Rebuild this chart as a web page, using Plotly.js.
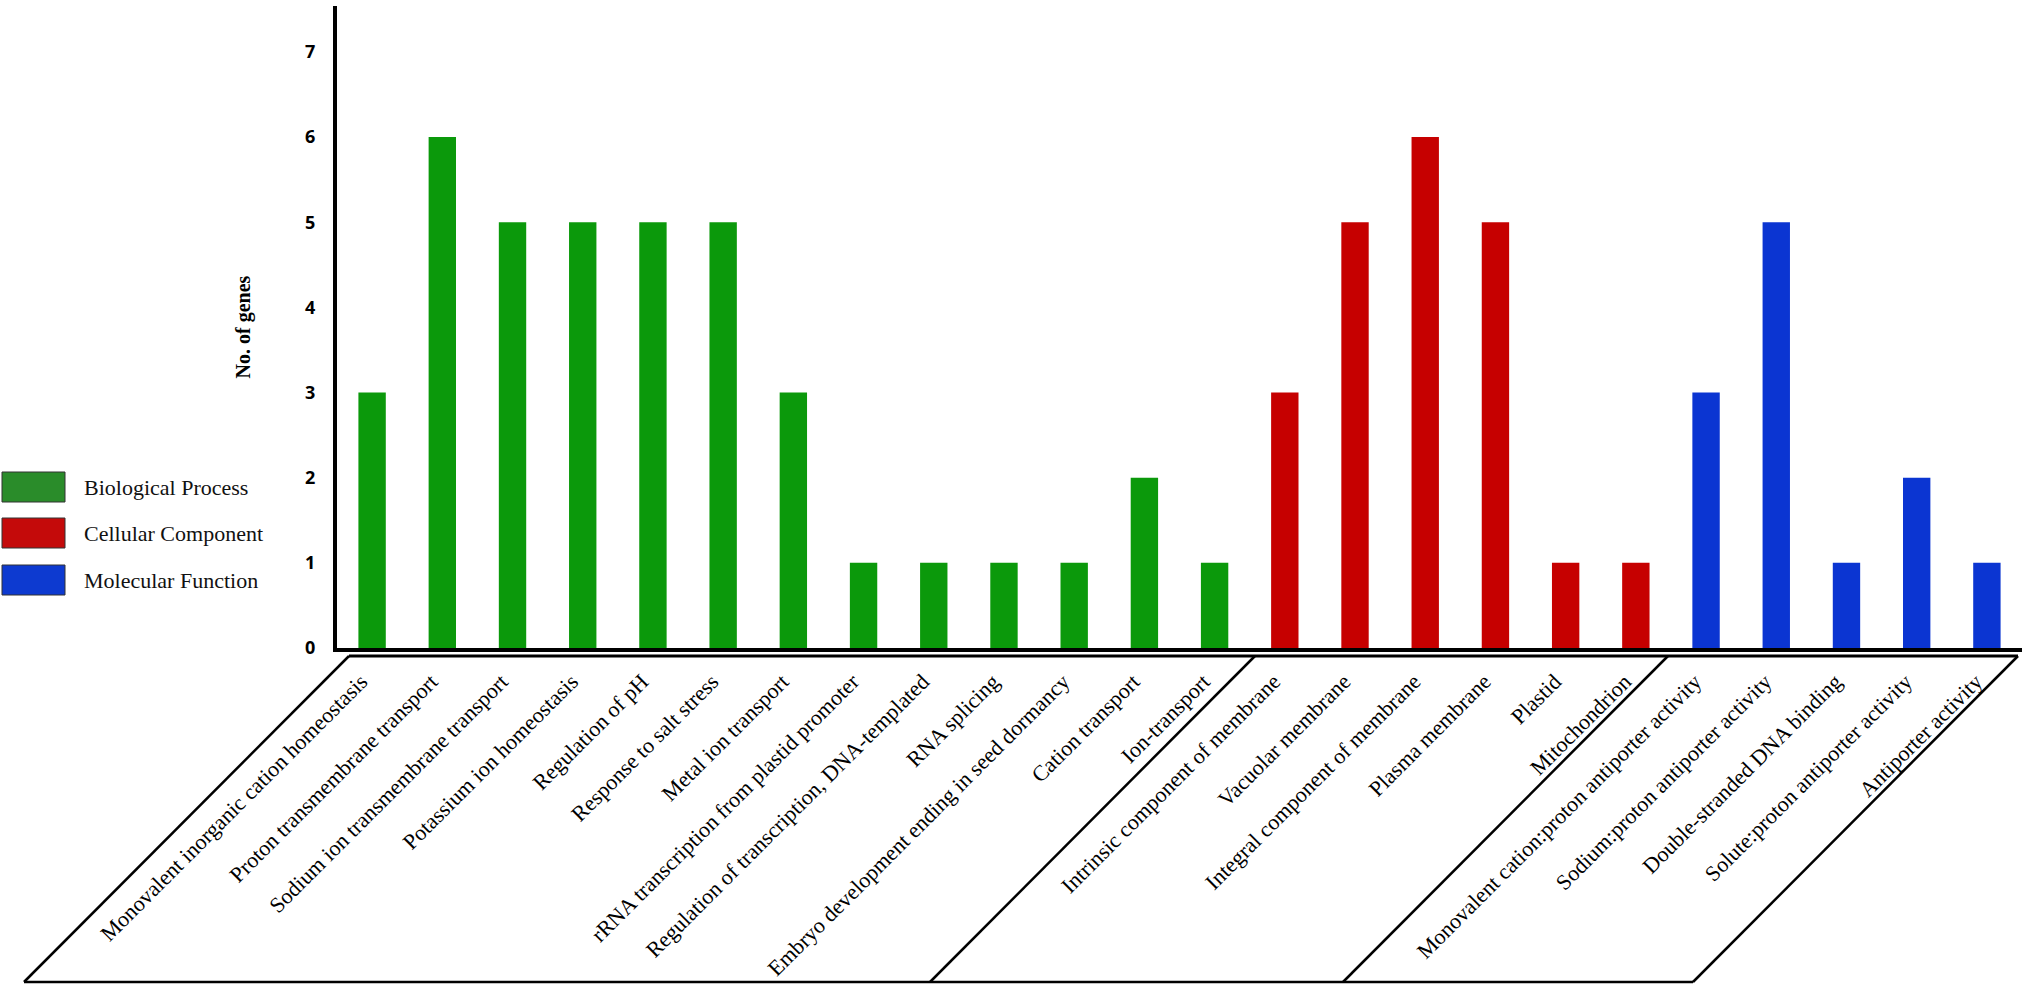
<!DOCTYPE html>
<html>
<head>
<meta charset="utf-8">
<script src="https://cdn.plot.ly/plotly-3.0.1.min.js"></script>
<style>
  html, body { margin: 0; padding: 0; background: #fff; }
  #graph { width: 2032px; height: 990px; }
</style>
</head>
<body>
<div id="graph"></div>
<script>
const bpTerms = [
    "Monovalent inorganic cation homeostasis",
    "Proton transmembrane transport",
    "Sodium ion transmembrane transport",
    "Potassium ion homeostasis",
    "Regulation of pH",
    "Response to salt stress",
    "Metal ion transport",
    "rRNA transcription from plastid promoter",
    "Regulation of transcription, DNA-templated",
    "RNA splicing",
    "Embryo development ending in seed dormancy",
    "Cation transport",
    "Ion-transport"
]
const bpGenes = [3, 6, 5, 5, 5, 5, 3, 1, 1, 1, 1, 2, 1]

const ccTerms = [
    "Intrinsic component of membrane",
    "Vacuolar membrane",
    "Integral component of membrane",
    "Plasma membrane",
    "Plastid",
    "Mitochondrion"
]
const ccGenes = [3, 5, 6, 5, 1, 1]

const mfTerms = [
    "Monovalent cation:proton antiporter activity",
    "Sodium:proton antiporter activity",
    "Double-stranded DNA binding",
    "Solute:proton antiporter activity",
    "Antiporter activity"
]
const mfGenes = [3, 5, 1, 2, 1]

const groupNames = ["Biological Process", "Cellular Component", "Molecular Function"]
const barColors = ["#0b990b", "#c60000", "#0b35d2"]
const swatchColors = ["#2a8c2a", "#c40a0a", "#0d3ad0"]

const allTerms = [...bpTerms, ...ccTerms, ...mfTerms]

// plot area in pixels (used to place the decoration below the axis)
const W = 2032, H = 990
const M = { l: 337, r: 10, t: 6, b: 342 }
const px = x => (x - M.l) / (W - M.l - M.r)
const py = y => (H - M.b - y) / (H - M.t - M.b)

const groups = [[bpTerms, bpGenes], [ccTerms, ccGenes], [mfTerms, mfGenes]]
const traces = groups.map(([terms, genes], i) => ({
    type: "bar",
    x: terms,
    y: genes,
    name: groupNames[i],
    width: 0.39,
    marker: { color: barColors[i], line: { width: 0 } },
    showlegend: false,
    hoverinfo: "x+y"
}))

// slanted box under the category labels, split per group
const topY = 656, botY = 982, slant = 325
const splitsTop = [349, 1255, 1668, 2018]
const shapes = []
const edge = (xt) => ({
    type: "line", xref: "paper", yref: "paper",
    x0: px(xt), y0: py(topY), x1: px(xt - slant), y1: py(botY),
    line: { color: "#000", width: 2.5 }
})
splitsTop.forEach(xt => shapes.push(edge(xt)))
shapes.push({
    type: "line", xref: "paper", yref: "paper",
    x0: px(splitsTop[0]), y0: py(topY), x1: px(splitsTop[3]), y1: py(topY),
    line: { color: "#000", width: 3 }
})
shapes.push({
    type: "line", xref: "paper", yref: "paper",
    x0: px(splitsTop[0] - slant), y0: py(botY), x1: px(splitsTop[3] - slant), y1: py(botY),
    line: { color: "#000", width: 2.5 }
})

// legend drawn as swatches + labels on the left
const legendY = [487, 533, 580]
const annotations = []
groupNames.forEach((name, i) => {
    shapes.push({
        type: "rect", xref: "paper", yref: "paper",
        x0: px(2), x1: px(65), y0: py(legendY[i] + 15), y1: py(legendY[i] - 15),
        fillcolor: swatchColors[i],
        line: { color: "#333", width: 1 }
    })
    annotations.push({
        xref: "paper", yref: "paper", x: px(82), y: py(legendY[i]),
        xanchor: "left", yanchor: "middle", showarrow: false,
        text: name,
        font: { family: "Liberation Serif", size: 22, color: "#111" }
    })
})

const layout = {
    width: W, height: H,
    margin: M,
    paper_bgcolor: "#fff",
    plot_bgcolor: "#fff",
    barmode: "overlay",
    xaxis: {
        type: "category",
        categoryorder: "array",
        categoryarray: allTerms,
        range: [-0.5, allTerms.length - 0.5],
        showline: true, linecolor: "#000", linewidth: 4,
        showgrid: false, zeroline: false,
        ticks: "",
        tickangle: -45,
        ticklabelstandoff: 8,
        ticklabelshift: -11,
        tickfont: { family: "Liberation Serif", size: 22, color: "#000" },
        automargin: false
    },
    yaxis: {
        range: [0, 7.54],
        tickvals: [0, 1, 2, 3, 4, 5, 6, 7],
        showline: true, linecolor: "#000", linewidth: 4,
        showgrid: false, zeroline: false,
        ticks: "",
        ticklabelstandoff: 14,
        tickfont: { family: "Open Sans", size: 18, weight: "bold", color: "#000" },
        title: {
            text: "No. of genes",
            standoff: 50,
            font: { family: "Liberation Serif", size: 20, weight: "bold", color: "#000" }
        },
        automargin: false
    },
    shapes: shapes,
    annotations: annotations
}

Plotly.newPlot("graph", traces, layout, { displayModeBar: false, staticPlot: true })
</script>
</body>
</html>
